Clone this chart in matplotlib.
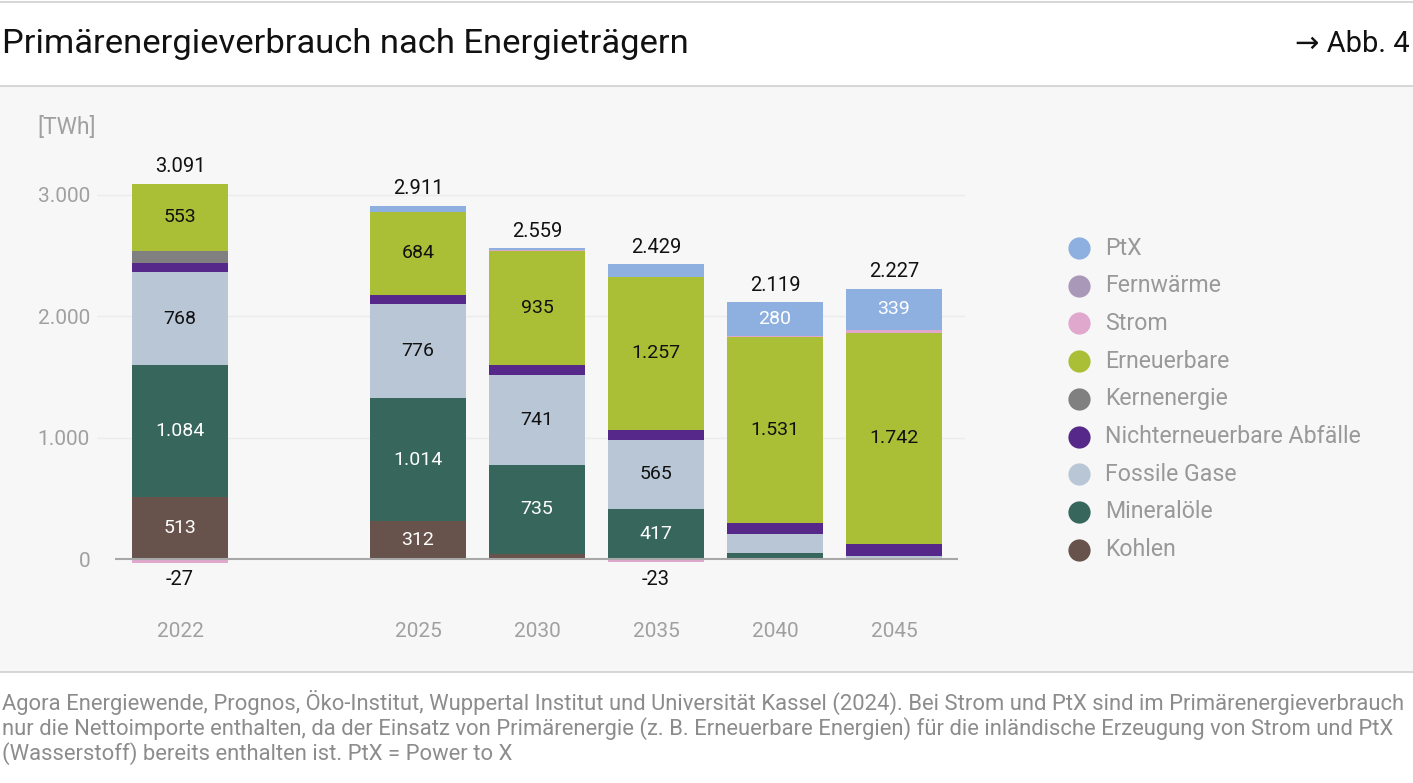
import numpy as np
import matplotlib
matplotlib.use('Agg')
import matplotlib.pyplot as plt
from matplotlib.patches import Rectangle
from matplotlib.lines import Line2D

plt.rcParams['font.family'] = ['Roboto', 'DejaVu Sans']

# Daten (TWh)
years = ['2022', '2025', '2030', '2035', '2040', '2045']
x_pos = [0, 2, 3, 4, 5, 6]

kohlen = [513, 312, 44, 0, 0, 0]
mineraloele = [1084, 1014, 735, 417, 52, 14]
fossile_gase = [768, 776, 741, 565, 156, 10]
abfaelle = [71, 73, 83, 84, 88, 100]
kernenergie = [104, 0, 0, 0, 0, 0]
erneuerbare = [553, 684, 935, 1257, 1531, 1742]
strom = [-27, 0, 8, -23, 12, 22]
fernwaerme = [0, 0, 0, 0, 0, 0]
ptx = [0, 52, 13, 106, 280, 339]
totals = [3091, 2911, 2559, 2429, 2119, 2227]

series = [
    ('Kohlen', kohlen, '#67524C', 'white'),
    ('Mineralöle', mineraloele, '#37665C', 'white'),
    ('Fossile Gase', fossile_gase, '#B8C6D6', '#111111'),
    ('Nichterneuerbare Abfälle', abfaelle, '#55288A', 'white'),
    ('Kernenergie', kernenergie, '#808080', 'white'),
    ('Erneuerbare', erneuerbare, '#AABF35', '#111111'),
    ('Strom', strom, '#E0A8CC', '#111111'),
    ('Fernwärme', fernwaerme, '#A998B8', '#111111'),
    ('PtX', ptx, '#8DB0E0', 'white'),
]

W, H = 1413, 783
fig = plt.figure(figsize=(W / 100, H / 100), dpi=100)
fig.patch.set_facecolor('white')

def fy(py):
    return 1 - py / H

# Kopf- und Fußbereich
fig.add_artist(Rectangle((0, fy(672)), 1, fy(86) - fy(672), transform=fig.transFigure,
                         facecolor='#F7F7F7', edgecolor='none', zorder=0))
for py in [1.5, 85.5, 672]:
    fig.add_artist(Line2D([0, 1], [fy(py), fy(py)], transform=fig.transFigure,
                          color='#D0D0D0', lw=1.2))

fig.text(2 / W, fy(44), 'Primärenergieverbrauch nach Energieträgern', fontsize=24.8,
         color='#111111', va='center', ha='left')
fig.text(1410 / W, fy(44), '→ Abb. 4', fontsize=21, color='#111111', va='center', ha='right')

quelle = ('Agora Energiewende, Prognos, Öko-Institut, Wuppertal Institut und Universität Kassel (2024). '
          'Bei Strom und PtX sind im Primärenergieverbrauch\n'
          'nur die Nettoimporte enthalten, da der Einsatz von Primärenergie (z. B. Erneuerbare Energien) '
          'für die inländische Erzeugung von Strom und PtX\n'
          '(Wasserstoff) bereits enthalten ist. PtX = Power to X')
fig.text(2 / W, fy(690), quelle, fontsize=15.8, color='#8C8C8C', va='top', ha='left',
         linespacing=1.1)

# Diagramm
ax_l, ax_r, ax_t, ax_b = 97, 965, 100, 600
ax = fig.add_axes([ax_l / W, fy(ax_b), (ax_r - ax_l) / W, (ax_b - ax_t) / H])
ax.set_facecolor('none')
ax.set_xlim(-(180 - ax_l) / 119, (ax_r - 180) / 119)
ax.set_ylim(-(ax_b - 559.3) / 0.1215, (559.3 - ax_t) / 0.1215)

for g in [1000, 2000, 3000]:
    ax.axhline(g, color='#ECECEC', lw=1, zorder=0)

x = np.array(x_pos, dtype=float)
pos_base = np.zeros(len(x))
neg_base = np.zeros(len(x))
bw = 0.8
for name, vals, col, tcol in series:
    v = np.array(vals, dtype=float)
    bottom = np.where(v >= 0, pos_base, neg_base)
    ax.bar(x, v, bw, bottom=bottom, color=col, edgecolor='none', zorder=2)
    for i in range(len(x)):
        if v[i] >= 200:
            ax.text(x[i], bottom[i] + v[i] / 2, f'{int(v[i]):,}'.replace(',', '.'),
                    ha='center', va='center', fontsize=14, color=tcol, zorder=3)
    pos_base = pos_base + np.where(v > 0, v, 0)
    neg_base = neg_base + np.where(v < 0, v, 0)

ax.plot([-(180 - 115) / 119, (958 - 180) / 119], [0, 0], color='#A8A8A8', lw=1.5, zorder=4,
        solid_capstyle='butt')

for i in range(len(x)):
    ax.text(x[i], pos_base[i] + 60, f'{totals[i]:,}'.replace(',', '.'), ha='center', va='bottom',
            fontsize=14.5, color='#111111')
    if strom[i] < 0:
        ax.text(x[i], -170, f'{strom[i]}', ha='center', va='center', fontsize=14.5,
                color='#111111')

ax.set_xticks(x)
ax.set_xticklabels(years)
ax.set_yticks([0, 1000, 2000, 3000])
ax.set_yticklabels(['0', '1.000', '2.000', '3.000'])
ax.tick_params(axis='both', length=0, labelsize=15, colors='#A0A0A0')
ax.tick_params(axis='x', pad=16)
ax.tick_params(axis='y', pad=5)
for s in ax.spines.values():
    s.set_visible(False)

fig.text(37 / W, fy(128), '[TWh]', fontsize=16.5, color='#A0A0A0', va='center', ha='left')

# Legende
leg_items = list(reversed(series))
for k, (name, vals, col, tcol) in enumerate(leg_items):
    py = 248 + k * 37.7
    fig.add_artist(Line2D([1079 / W], [fy(py)], transform=fig.transFigure, marker='o',
                          markersize=16, color=col, markeredgecolor='none'))
    fig.text(1105 / W, fy(py), name, fontsize=16.7, color='#999999', va='center', ha='left')

fig.savefig('out.png', dpi=100, facecolor=fig.get_facecolor())
